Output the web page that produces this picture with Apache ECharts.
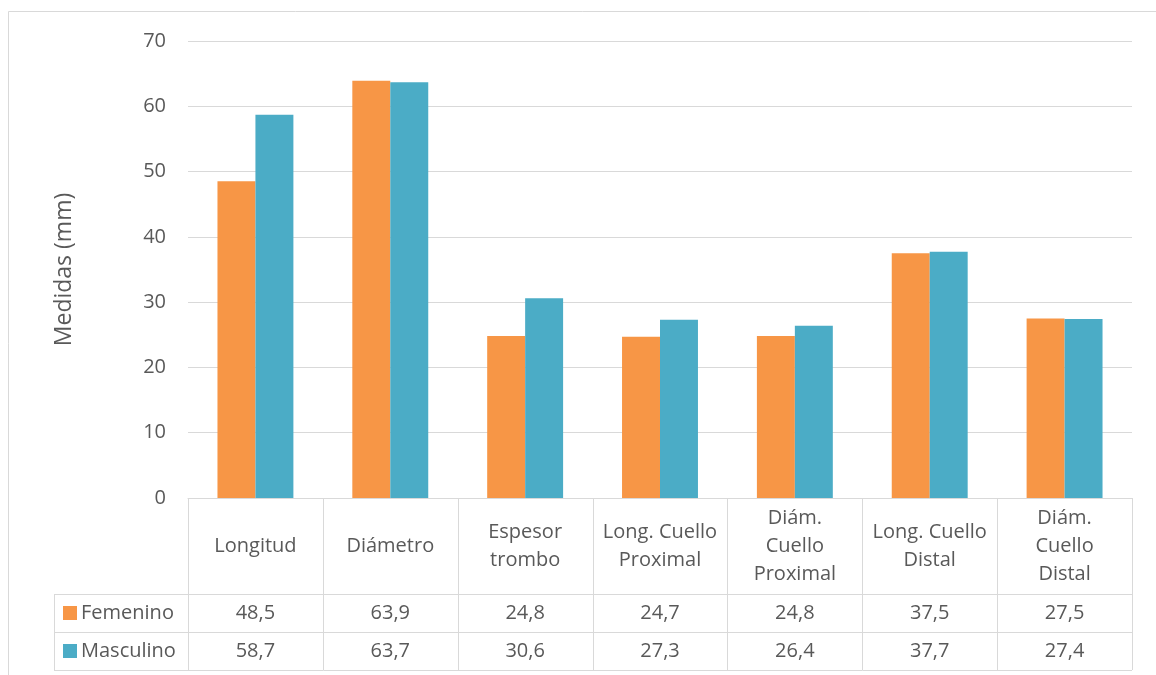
<!DOCTYPE html>
<html>
<head>
<meta charset="utf-8">
<script src="https://cdn.jsdelivr.net/npm/echarts@6/dist/echarts.min.js"></script>
<style>
html,body{margin:0;padding:0;background:#fff;}
#c{width:1156px;height:675px;}
</style>
</head>
<body>
<div id="c"></div>
<script>
const categories = ["Longitud", "Diámetro", "Espesor\ntrombo", "Long. Cuello\nProximal", "Diám.\nCuello\nProximal", "Long. Cuello\nDistal", "Diám.\nCuello\nDistal"];
const seriesNames = ["Femenino", "Masculino"];
const femenino = [48.5, 63.9, 24.8, 24.7, 24.8, 37.5, 27.5];
const masculino = [58.7, 63.7, 30.6, 27.3, 26.4, 37.7, 27.4];
const colors = ["#F79646", "#4BACC6"];
const yTicks = {min: 0, max: 70, interval: 10};
const yTitle = "Medidas (mm)";

const FONT = "'Open Sans', sans-serif";
const TXT = "#595959";
const LINE = "#d9d9d9";
const FS = 20;

const chart = echarts.init(document.getElementById('c'), null, {renderer: 'canvas'});
const seriesData = [femenino, masculino];

chart.setOption({
  animation: false,
  backgroundColor: '#fff',
  textStyle: {fontFamily: FONT},
  grid: {left: 188, right: 24, top: 41, bottom: 177, containLabel: false},
  xAxis: {
    type: 'category',
    data: categories,
    axisLine: {show: true, lineStyle: {color: LINE, width: 1}},
    axisTick: {show: false},
    axisLabel: {show: false},
    splitLine: {show: false}
  },
  yAxis: {
    type: 'value',
    min: yTicks.min, max: yTicks.max, interval: yTicks.interval,
    name: yTitle,
    nameLocation: 'middle',
    nameGap: 112,
    nameTextStyle: {fontFamily: FONT, fontSize: 23, color: TXT},
    axisLine: {show: false},
    axisTick: {show: false},
    axisLabel: {fontFamily: FONT, fontSize: FS, color: TXT, margin: 22},
    splitLine: {lineStyle: {color: LINE, width: 1}}
  },
  series: seriesNames.map((n, i) => ({
    name: n,
    type: 'bar',
    data: seriesData[i],
    itemStyle: {color: colors[i]},
    barGap: '0%',
    barCategoryGap: '43.7%'
  }))
});

function buildTable() {
  const c0 = chart.convertToPixel({xAxisIndex: 0}, 0);
  const c1 = chart.convertToPixel({xAxisIndex: 0}, 1);
  const band = c1 - c0;
  const y0 = chart.convertToPixel({yAxisIndex: 0}, 0);
  const headerH = 96, rowH = 38;
  const left = c0 - band / 2;
  const right = left + band * categories.length;
  const legendLeft = 54;
  const g = [];
  const ls = {stroke: LINE, lineWidth: 1};
  g.push({type: 'rect', shape: {x: 8.5, y: 11.5, width: 1200, height: 700}, style: {fill: null, stroke: LINE, lineWidth: 1}, silent: true, z: 0});
  const yBottom = y0 + headerH + rowH * seriesNames.length;
  for (let i = 0; i <= categories.length; i++) {
    const x = Math.round(left + band * i) + 0.5;
    g.push({type: 'line', shape: {x1: x, y1: y0, x2: x, y2: yBottom}, style: ls, silent: true});
  }
  g.push({type: 'line', shape: {x1: legendLeft + 0.5, y1: y0 + headerH, x2: legendLeft + 0.5, y2: yBottom}, style: ls, silent: true});
  for (let r = 0; r <= seriesNames.length; r++) {
    const y = Math.round(y0 + headerH + rowH * r) + 0.5;
    g.push({type: 'line', shape: {x1: legendLeft, y1: y, x2: right, y2: y}, style: ls, silent: true});
  }
  categories.forEach((cat, i) => {
    g.push({type: 'text', x: left + band * (i + 0.5), y: y0 + headerH / 2,
      style: {text: cat, fill: TXT, font: FS + 'px ' + FONT, align: 'center', verticalAlign: 'middle', lineHeight: 28}, silent: true});
  });
  seriesNames.forEach((n, r) => {
    const cy = y0 + headerH + rowH * (r + 0.5);
    g.push({type: 'rect', shape: {x: 63, y: cy - 7, width: 14, height: 14}, style: {fill: colors[r]}, silent: true});
    g.push({type: 'text', x: 81, y: cy, style: {text: n, fill: TXT, font: FS + 'px ' + FONT, align: 'left', verticalAlign: 'middle'}, silent: true});
    seriesData[r].forEach((v, i) => {
      g.push({type: 'text', x: left + band * (i + 0.5), y: cy,
        style: {text: v.toFixed(1).replace('.', ','), fill: TXT, font: FS + 'px ' + FONT, align: 'center', verticalAlign: 'middle'}, silent: true});
    });
  });
  chart.setOption({graphic: g});
}
buildTable();
</script>
</body>
</html>
